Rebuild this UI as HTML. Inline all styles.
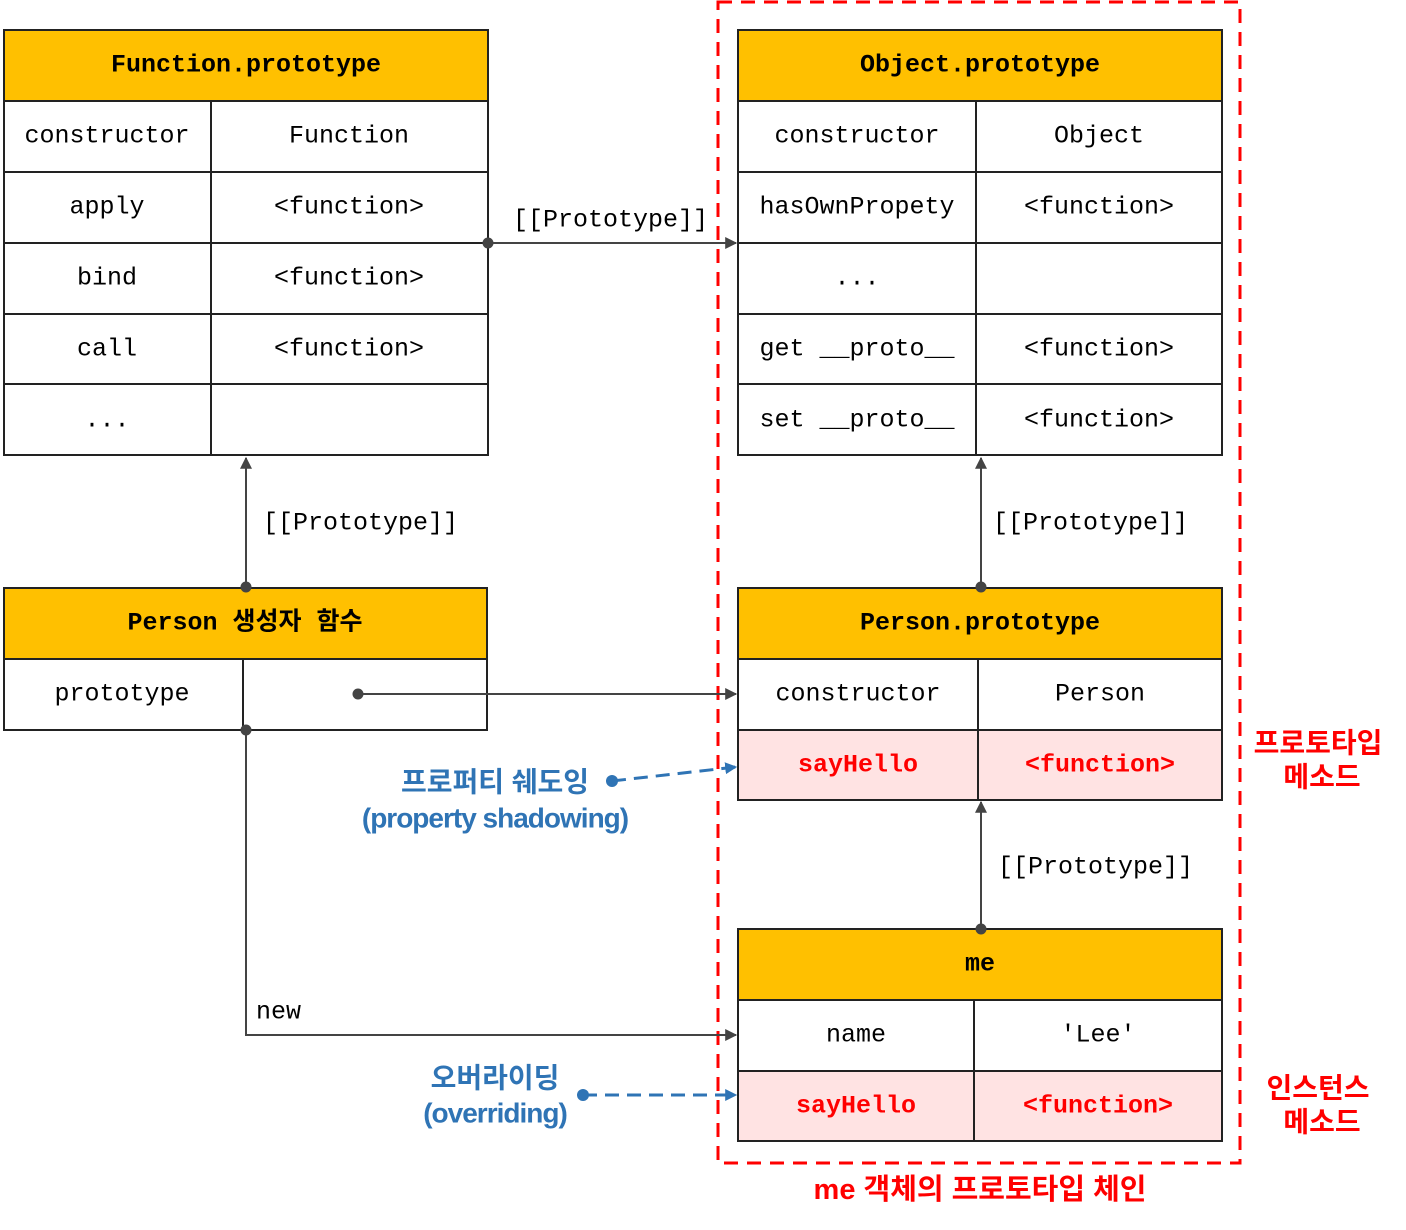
<!DOCTYPE html>
<html><head><meta charset="utf-8"><style>
html,body{margin:0;padding:0;background:#fff;}
svg text{font-family:"Liberation Mono","Noto Sans CJK KR",monospace;font-size:25px;}
.h{font-weight:bold;}
.k{font-family:"Liberation Sans","Noto Sans CJK KR",sans-serif;font-weight:bold;}
</style></head><body>
<svg width="1406" height="1225" viewBox="0 0 1406 1225" xmlns="http://www.w3.org/2000/svg">
<defs>
<marker id="a" viewBox="0 0 10 10" refX="9" refY="5" markerWidth="12" markerHeight="12" markerUnits="userSpaceOnUse" orient="auto"><path d="M0,0L10,5L0,10z" fill="#444"/></marker>
<marker id="b" viewBox="0 0 10 10" refX="9" refY="5" markerWidth="12" markerHeight="12" markerUnits="userSpaceOnUse" orient="auto"><path d="M0,0L10,5L0,10z" fill="#2f74b5"/></marker>
</defs>
<rect x="718" y="2" width="522" height="1161" fill="none" stroke="#f00" stroke-width="3" stroke-dasharray="14,9"/>
<g stroke="#222" stroke-width="2" fill="#fff">
<rect x="4" y="30" width="484" height="71" fill="#ffc000"/>
<rect x="4" y="101" width="484" height="354"/>
<path d="M4 172H488M4 243H488M4 314H488M4 384H488M211 101V455" fill="none"/>
<rect x="738" y="30" width="484" height="71" fill="#ffc000"/>
<rect x="738" y="101" width="484" height="354"/>
<path d="M738 172H1222M738 243H1222M738 314H1222M738 384H1222M976 101V455" fill="none"/>
<rect x="4" y="588" width="483" height="71" fill="#ffc000"/>
<rect x="4" y="659" width="483" height="71"/>
<path d="M243 659V730" fill="none"/>
<rect x="738" y="588" width="484" height="71" fill="#ffc000"/>
<rect x="738" y="659" width="484" height="71"/>
<rect x="738" y="730" width="484" height="70" fill="#ffe3e3"/>
<path d="M978 659V800" fill="none"/>
<rect x="738" y="929" width="484" height="71" fill="#ffc000"/>
<rect x="738" y="1000" width="484" height="71"/>
<rect x="738" y="1071" width="484" height="70" fill="#ffe3e3"/>
<path d="M974 1000V1141" fill="none"/>
</g>
<g text-anchor="middle" dominant-baseline="central">
<text x="246" y="65" class="h">Function.prototype</text>
<text x="107" y="136">constructor</text><text x="349" y="136">Function</text>
<text x="107" y="207">apply</text><text x="349" y="207">&lt;function&gt;</text>
<text x="107" y="278">bind</text><text x="349" y="278">&lt;function&gt;</text>
<text x="107" y="349">call</text><text x="349" y="349">&lt;function&gt;</text>
<text x="107" y="420">...</text>
<text x="980" y="65" class="h">Object.prototype</text>
<text x="857" y="136">constructor</text><text x="1099" y="136">Object</text>
<text x="857" y="207">hasOwnPropety</text><text x="1099" y="207">&lt;function&gt;</text>
<text x="857" y="278">...</text>
<text x="857" y="349">get __proto__</text><text x="1099" y="349">&lt;function&gt;</text>
<text x="857" y="420">set __proto__</text><text x="1099" y="420">&lt;function&gt;</text>
<text x="245" y="623" class="h">Person 생성자 함수</text>
<text x="122" y="694">prototype</text>
<text x="980" y="623" class="h">Person.prototype</text>
<text x="858" y="694">constructor</text><text x="1100" y="694">Person</text>
<text x="858" y="765" class="h" fill="#f00">sayHello</text><text x="1100" y="765" class="h" fill="#f00">&lt;function&gt;</text>
<text x="980" y="964" class="h">me</text>
<text x="856" y="1035">name</text><text x="1098" y="1035">'Lee'</text>
<text x="856" y="1106" class="h" fill="#f00">sayHello</text><text x="1098" y="1106" class="h" fill="#f00">&lt;function&gt;</text>
</g>
<g stroke="#444" stroke-width="2" fill="none">
<path d="M488 243H736" marker-end="url(#a)"/>
<path d="M246 587V458" marker-end="url(#a)"/>
<path d="M981 587V458" marker-end="url(#a)"/>
<path d="M358 694H736" marker-end="url(#a)"/>
<path d="M246 730V1035H736" marker-end="url(#a)"/>
<path d="M981 929V802" marker-end="url(#a)"/>
</g>
<g fill="#444">
<circle cx="488" cy="243" r="5.5"/><circle cx="246" cy="587" r="5.5"/><circle cx="981" cy="587" r="5.5"/>
<circle cx="358" cy="694" r="5.5"/><circle cx="246" cy="730" r="5.5"/><circle cx="981" cy="929" r="5.5"/>
</g>
<g stroke="#2f74b5" stroke-width="3" fill="none" stroke-dasharray="14,8">
<path d="M612 781L736 767" marker-end="url(#b)"/>
<path d="M583 1095H736" marker-end="url(#b)"/>
</g>
<g fill="#2f74b5"><circle cx="612" cy="781" r="6"/><circle cx="583" cy="1095" r="6"/></g>
<g dominant-baseline="central">
<text x="513" y="220">[[Prototype]]</text>
<text x="263" y="523">[[Prototype]]</text>
<text x="993" y="523">[[Prototype]]</text>
<text x="998" y="867">[[Prototype]]</text>
<text x="256" y="1012">new</text>
</g>
<g text-anchor="middle" dominant-baseline="central">
<text x="495" y="782" class="k" fill="#2f74b5" style="font-size:28px">프로퍼티 쉐도잉</text>
<text x="495" y="818" class="k" fill="#2f74b5" style="font-size:28px;letter-spacing:-1px">(property shadowing)</text>
<text x="495" y="1078" class="k" fill="#2f74b5" style="font-size:28px">오버라이딩</text>
<text x="495" y="1113" class="k" fill="#2f74b5" style="font-size:28px;letter-spacing:-1px">(overriding)</text>
<text x="1318" y="743" class="k" fill="#f00" style="font-size:28px">프로토타입</text>
<text x="1322" y="777" class="k" fill="#f00" style="font-size:28px">메소드</text>
<text x="1318" y="1088" class="k" fill="#f00" style="font-size:28px">인스턴스</text>
<text x="1322" y="1122" class="k" fill="#f00" style="font-size:28px">메소드</text>
<text x="980" y="1190" class="k" fill="#f00" style="font-size:29px">me 객체의 프로토타입 체인</text>
</g>
</svg>
</body></html>
